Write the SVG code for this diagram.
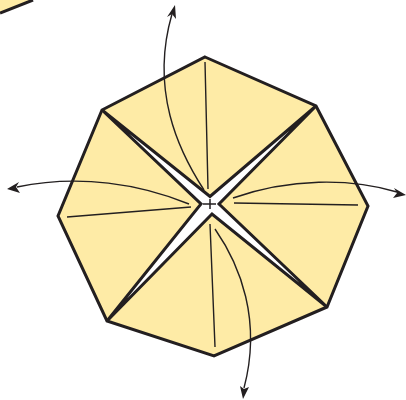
<svg xmlns="http://www.w3.org/2000/svg" width="406" height="400" viewBox="0 0 406 400">
<defs>
<style>
.f{fill:#feeba6;stroke:#231f20;stroke-width:3;stroke-linejoin:miter}
.l{fill:none;stroke:#231f20;stroke-width:1.4}
.a{fill:#231f20;stroke:none}
</style>
</defs>
<g id="fragment"><path d="M0 13L33 0H0Z" fill="#feeba6"/><path d="M0 13L33 0" class="l" style="stroke-width:3"/></g>
<g id="octagon">
<path class="f" d="M205 57L316 106L368 206L327 307L214 356L107 321L58 216L102 110Z"/>
<path d="M102 110L210 196.500L316 106L219 204L327 307L212 214L107 321L201 204Z" fill="#fff" stroke="#231f20" stroke-width="3" stroke-linejoin="miter"/>
</g>
<g id="connectors">
<path class="l" d="M205 62L208 189M67 217L191 207M234 203L358 205M210 224L215 347"/>
<path class="l" d="M204 190C178 150 150 90 172 14"/>
<path class="a" d="M175 5L167 17L172 14L176 19Z"/>
<path class="l" d="M189 204C140 184 80 174 17 187"/>
<path class="a" d="M7 189L19 182L16 187L20 193Z"/>
<path class="l" d="M233 198C290 178 350 178 397 192"/>
<path class="a" d="M406 195L394 188L397 193L393 198Z"/>
<path class="l" d="M215 229C240 265 262 320 244 388"/>
<path class="a" d="M243 399L240 386L244 389L249 387Z"/>
<path d="M203 204H216M210 199V209" stroke="#231f20" stroke-width="1.5" fill="none"/>
</g>
</svg>
